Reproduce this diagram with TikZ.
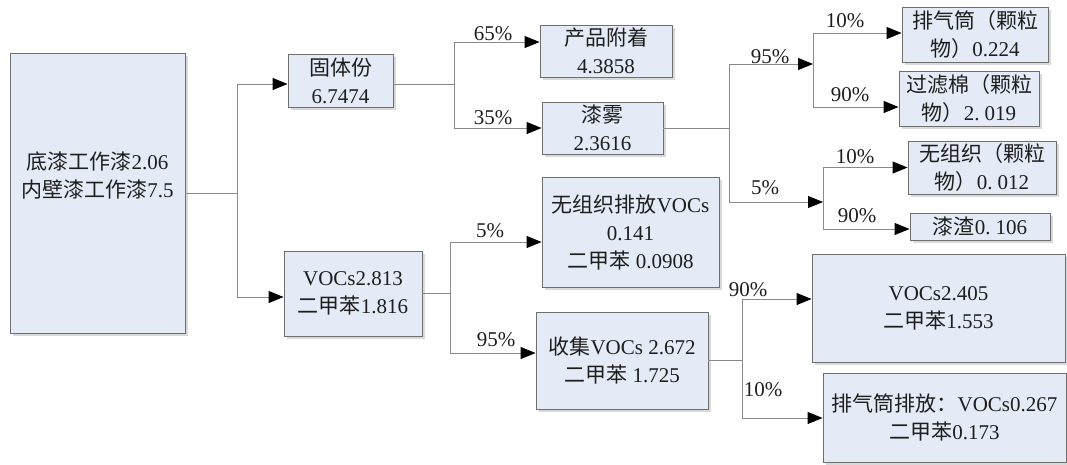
\documentclass[tikz,border=0pt]{standalone}
\usepackage{fontspec}
\setmainfont{Liberation Serif}
\newfontfamily\cjk{Noto Sans CJK SC}
\usetikzlibrary{arrows.meta,shadows}
\newcommand\zh[1]{{\cjk #1}}
\newcommand\dotgap{\kern5pt}
\definecolor{boxfill}{HTML}{E4EAF6}
\definecolor{boxline}{HTML}{6F6F6F}
\definecolor{connc}{HTML}{8A8A8A}
\definecolor{textc}{HTML}{1E1E1E}
\begin{document}
\begin{tikzpicture}[x=1pt,y=-1pt,
  font=\fontsize{21}{28}\selectfont,
  box/.style={draw=boxline, line width=0.9pt, fill=boxfill, inner sep=0pt, align=center, text=textc,
    drop shadow={shadow xshift=2.5pt,shadow yshift=-2.5pt,fill=black!15,opacity=1}},
  conn/.style={draw=connc, line width=1pt},
  arr/.style={conn, -{Triangle[length=15pt,width=12pt,color=black]}},
  pct/.style={inner sep=0pt, text=textc}]
\useasboundingbox (0,0) rectangle (1067,464);

\node[box, minimum width=175pt, minimum height=280pt] (src) at (97.5,193) {\zh{底漆工作漆}2.06\\\zh{内壁漆工作漆}7.5\\\strut};
\node[box, minimum width=105pt, minimum height=53pt] (solid) at (340.5,80.5) {\zh{固体份}\\6.7474};
\node[box, minimum width=132pt, minimum height=52pt] (prod) at (606,51) {\zh{产品附着}\\4.3858};
\node[box, minimum width=121pt, minimum height=52pt] (mist) at (602.5,128) {\zh{漆雾}\\2.3616};
\node[box, minimum width=146pt, minimum height=55pt] (stackA) at (975,34.5) {\zh{排气筒（颗粒}\\\zh{物）}0.224};
\node[box, minimum width=140pt, minimum height=55pt] (filt) at (969,98.5) {\zh{过滤棉（颗粒}\\\zh{物）}2.\dotgap 019};
\node[box, minimum width=148pt, minimum height=53pt] (fugA) at (982,167.5) {\zh{无组织（颗粒}\\\zh{物）}0.\dotgap 012};
\node[box, minimum width=140pt, minimum height=27pt] (slag) at (980,226.5) {\zh{漆渣}0.\dotgap 106};
\node[box, minimum width=138pt, minimum height=85pt] (voc) at (353,293.5) {VOCs2.813\\\zh{二甲苯}1.816};
\node[box, minimum width=177pt, minimum height=110pt] (fugV) at (630.5,232) {\zh{无组织排放}VOCs\\0.141\\\zh{二甲苯} 0.0908};
\node[box, minimum width=172pt, minimum height=97pt] (coll) at (622,360.5) {\zh{收集}VOCs 2.672\\\zh{二甲苯} 1.725};
\node[box, minimum width=253pt, minimum height=108pt] (treat) at (938.5,308) {VOCs2.405\\\zh{二甲苯}1.553};
\node[box, minimum width=243pt, minimum height=89pt] (stackB) at (944.5,417.5) {\zh{排气筒排放：}VOCs0.267\\\zh{二甲苯}0.173};

\coordinate (j0) at (237,193);
\draw[arr] (src.east) -- (j0) |- ([yshift=-3.5pt]solid.west);
\draw[arr] (j0) |- ([yshift=-3.5pt]voc.west);

\coordinate (j1) at (454,84);
\draw[arr] ([yshift=-3.5pt]solid.east) -- (j1) |- ([yshift=9pt]prod.west);
\draw[arr] (j1) |- (mist.west);

\coordinate (j2) at (729,128);
\coordinate (j3) at (813,64);
\coordinate (j4) at (823,202);
\draw[conn] (mist.east) -- (j2);
\draw[arr] (j2) |- (j3);
\draw[arr] (j2) |- (j4);
\draw[arr] (j3) |- ([yshift=1.5pt]stackA.west);
\draw[arr] (j3) |- ([yshift=-8.5pt]filt.west);
\draw[arr] (j4) |- (fugA.west);
\draw[arr] (j4) |- ([yshift=-2.5pt]slag.west);

\coordinate (j5) at (450,293.5);
\draw[conn] (voc.east) -- (j5);
\draw[arr] (j5) |- ([yshift=-10pt]fugV.west);
\draw[arr] (j5) |- ([yshift=7.5pt]coll.west);

\coordinate (j6) at (742,360.5);
\draw[conn] (coll.east) -- (j6);
\draw[arr] (j6) |- ([yshift=9pt]treat.west);
\draw[arr] (j6) |- ([yshift=-0.5pt]stackB.west);

\node[pct] (p65) at (493,34) {65\%};
\node[pct] (p35) at (493,118) {35\%};
\node[pct] (p95a) at (770,57) {95\%};
\node[pct] (p10a) at (845,21) {10\%};
\node[pct] (p90a) at (850,95) {90\%};
\node[pct] (p5a) at (765,188) {5\%};
\node[pct] (p10b) at (855,157) {10\%};
\node[pct] (p90b) at (857,216) {90\%};
\node[pct] (p5b) at (490,231) {5\%};
\node[pct] (p95b) at (496,340) {95\%};
\node[pct] (p90c) at (748,290) {90\%};
\node[pct] (p10c) at (763,390) {10\%};
\end{tikzpicture}
\end{document}
